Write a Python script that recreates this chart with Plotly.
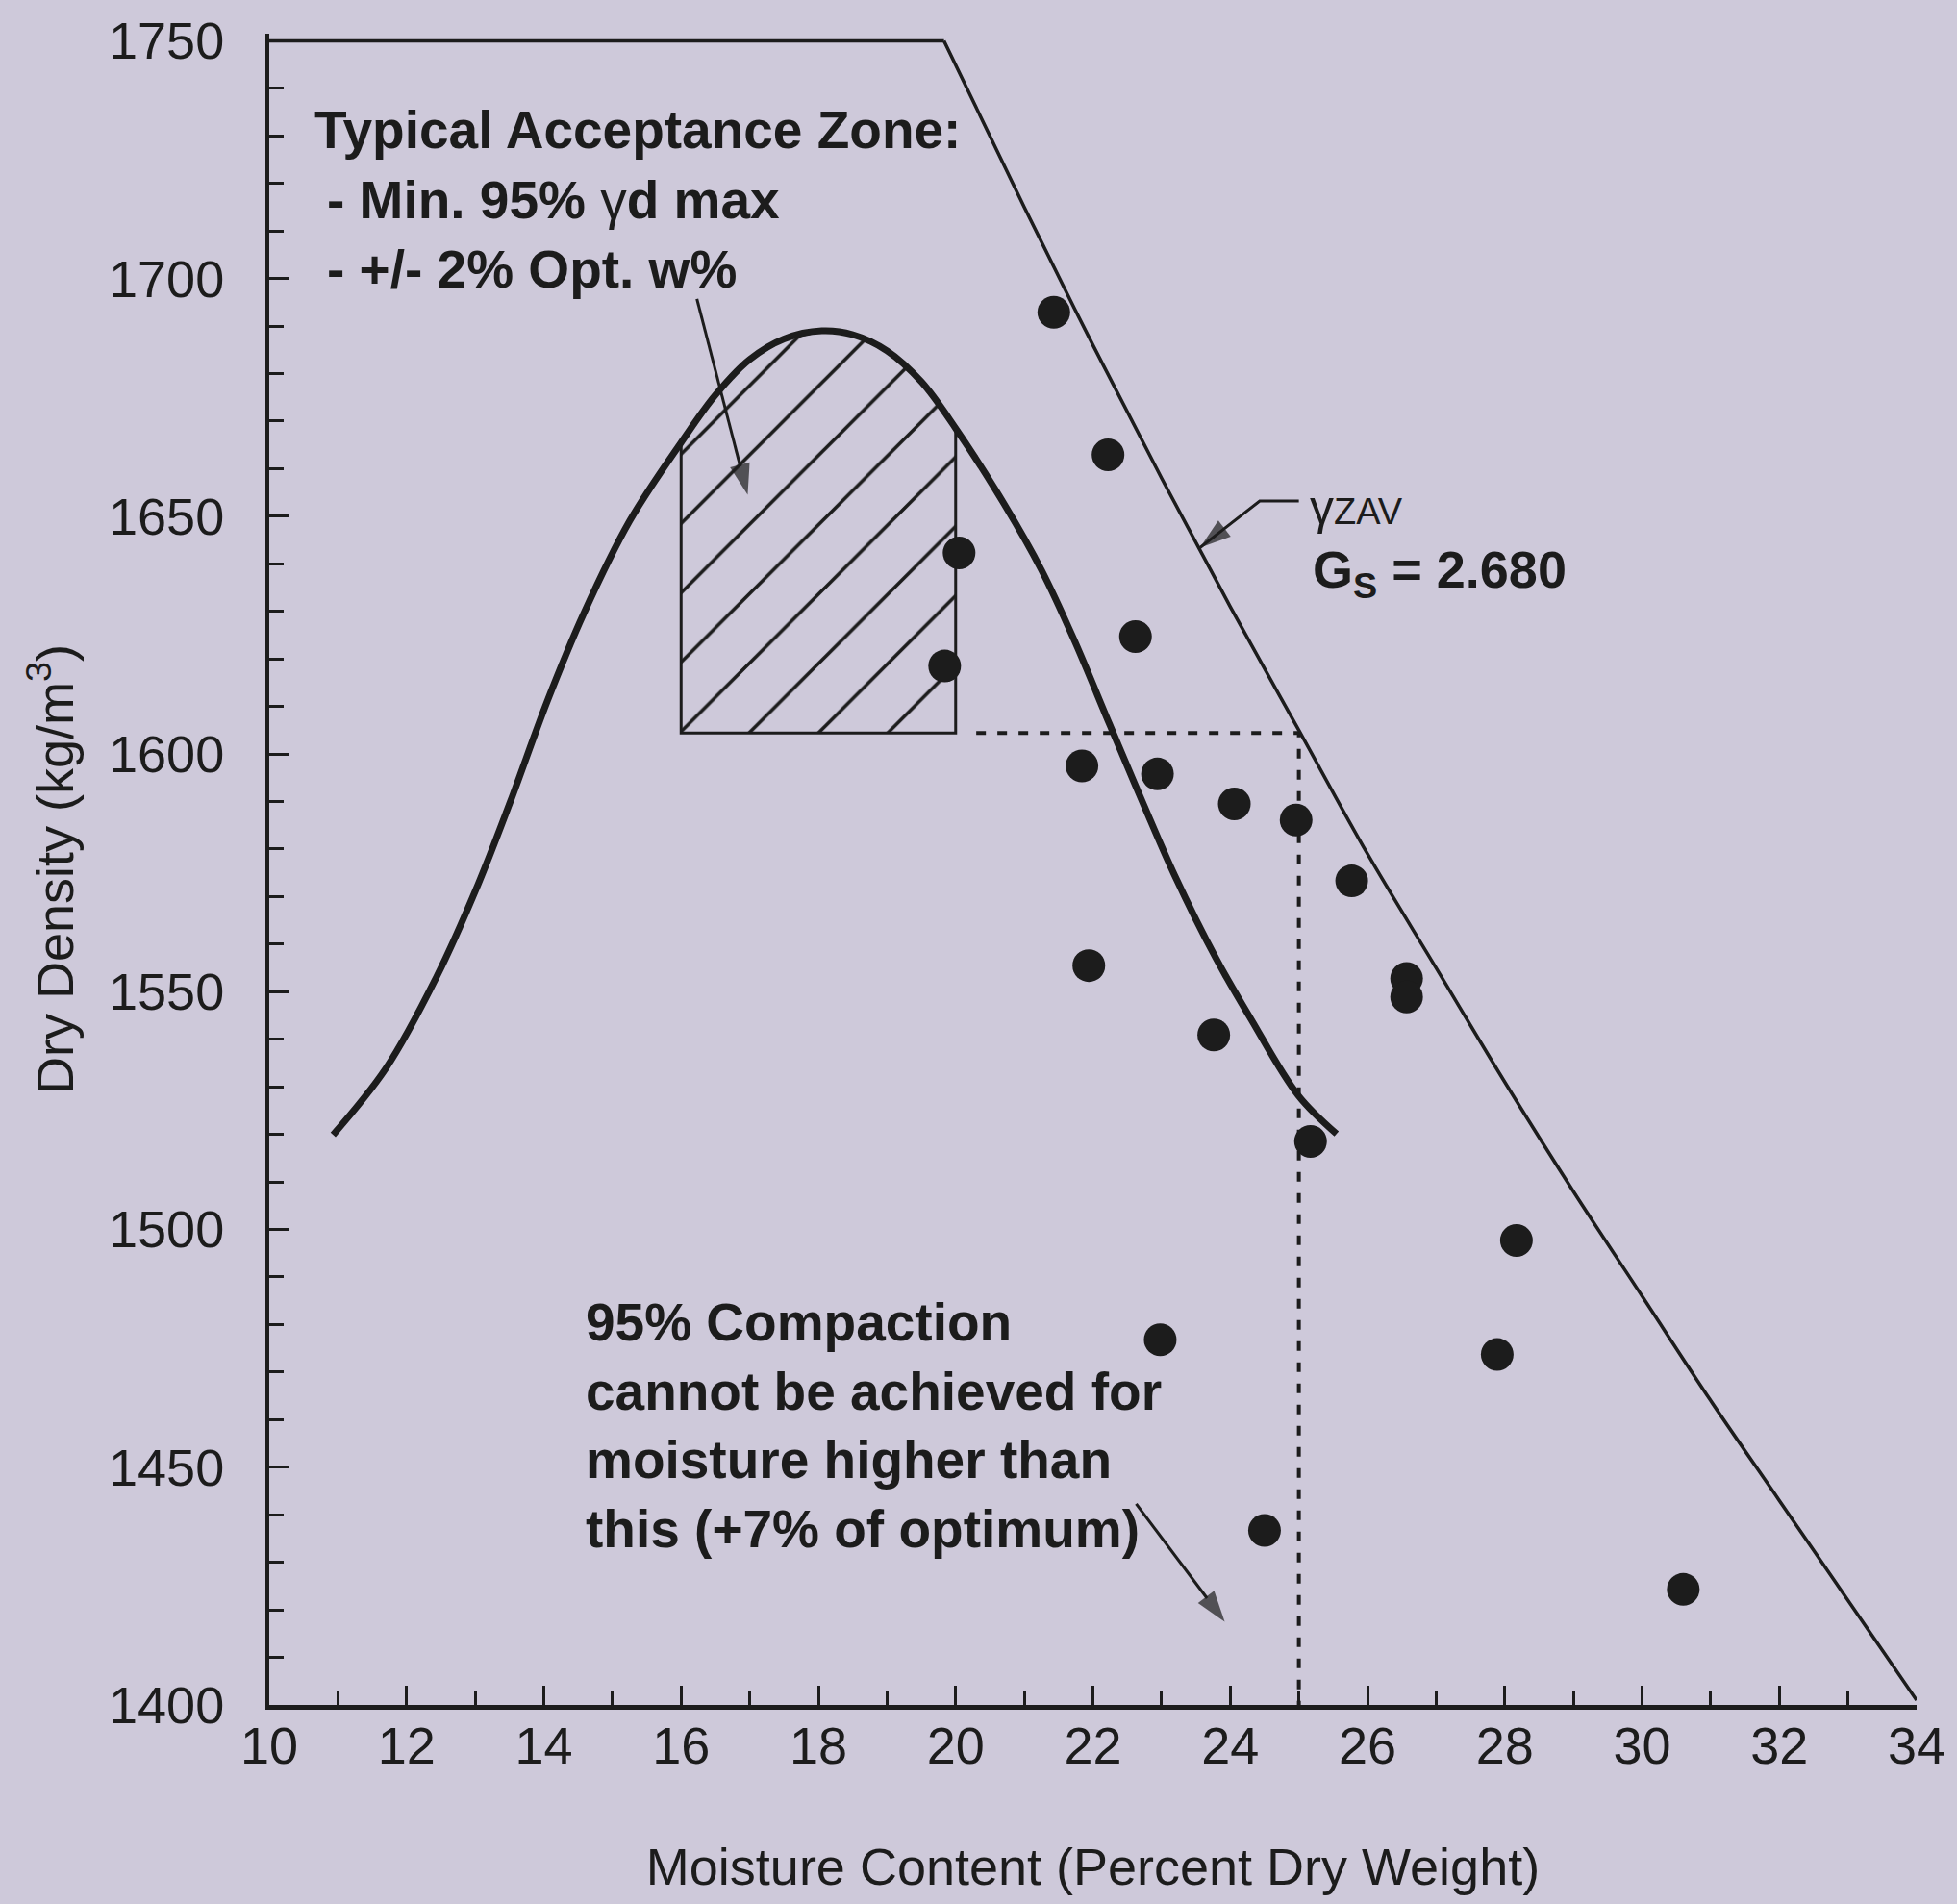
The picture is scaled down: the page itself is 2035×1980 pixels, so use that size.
import plotly.graph_objects as go

# ---------------- data ----------------
# Proctor (compaction) curve
curve_w = [10.93, 11.70, 12.44, 13.04, 13.51, 14.05, 14.58, 15.25, 16.0, 16.5, 17.0, 17.5,
           18.05, 18.5, 19.0, 19.5, 20.0, 20.71, 21.25, 21.72, 22.25, 22.72, 23.19, 23.79,
           24.30, 24.99, 25.55]
curve_rho = [1519.9, 1533.9, 1553.2, 1572.5, 1589.9, 1611.1, 1629.5, 1649.0, 1665.5, 1675.5,
             1683.0, 1687.3, 1689.0, 1688.2, 1684.8, 1678.3, 1668.5, 1652.5, 1638.7, 1624.2,
             1606.0, 1590.0, 1574.5, 1557.1, 1544.3, 1528.2, 1520.1]

# Zero-air-voids line (Gs = 2.680)
zav_w = [19.83, 21, 22, 23, 24, 25, 26, 27, 28, 29, 30, 31, 32, 33, 34]
zav_rho = [1750, 1715, 1686, 1658, 1631, 1605, 1579, 1555, 1531, 1508, 1486, 1464, 1443, 1422, 1401]

# frame top line
top_w = [10, 19.83]
top_rho = [1750, 1750]

# field test points
pts_w = [21.43, 22.22, 20.05, 19.84, 22.62, 21.84, 22.94, 24.06, 24.96, 25.77, 26.57, 26.57,
         21.94, 23.76, 25.17, 28.17, 22.98, 27.89, 24.50, 30.60]
pts_rho = [1692.9, 1662.9, 1642.3, 1618.5, 1624.7, 1597.5, 1595.8, 1589.5, 1586.1, 1573.3,
           1552.8, 1548.9, 1555.5, 1540.9, 1518.5, 1497.7, 1476.8, 1473.7, 1436.7, 1424.3]

# acceptance zone limits
zone_w_min, zone_w_max = 16.0, 20.0
zone_rho_min = 1604.4
limit_w = 25.0

x_ticks = list(range(10, 35, 2))
y_ticks = list(range(1400, 1751, 50))

INK = "#1c1c1c"
BG = "#cec9da"
FONT = "Liberation Sans, Arial, Helvetica, sans-serif"

fig = go.Figure()

# hatched acceptance zone
zx = [w for w in curve_w if zone_w_min <= w <= zone_w_max]
zy = [r for w, r in zip(curve_w, curve_rho) if zone_w_min <= w <= zone_w_max]
poly_x = zx + [zone_w_max, zone_w_min, zone_w_min]
poly_y = zy + [zone_rho_min, zone_rho_min, zy[0]]
fig.add_trace(go.Scatter(
    x=poly_x, y=poly_y, mode="lines", fill="toself",
    fillcolor="rgba(0,0,0,0)",
    fillpattern=dict(shape="/", size=51, solidity=0.07, fgcolor=INK, fgopacity=1,
                     bgcolor="rgba(0,0,0,0)"),
    line=dict(color=INK, width=3), hoverinfo="skip", showlegend=False))

# dotted limit lines
fig.add_trace(go.Scatter(
    x=[zone_w_max + 0.3, limit_w, limit_w], y=[zone_rho_min, zone_rho_min, 1400],
    mode="lines", line=dict(color=INK, width=4, dash="10px,12px"),
    hoverinfo="skip", showlegend=False))

# top frame line
fig.add_trace(go.Scatter(x=top_w, y=top_rho, mode="lines",
                         line=dict(color=INK, width=3.5), showlegend=False))
# ZAV line
fig.add_trace(go.Scatter(x=zav_w, y=zav_rho, mode="lines", line_shape="spline",
                         line=dict(color=INK, width=3.5), name="ZAV", showlegend=False))
# compaction curve
fig.add_trace(go.Scatter(x=curve_w, y=curve_rho, mode="lines", line_shape="spline",
                         line=dict(color=INK, width=7), name="Compaction curve", showlegend=False))
# test points
fig.add_trace(go.Scatter(x=pts_w, y=pts_rho, mode="markers",
                         marker=dict(size=34, color=INK), name="Tests", showlegend=False,
                         cliponaxis=False))

# pointer arrows (tail -> head), drawn as lines with an arrow marker at the head
arrows = [
    ([16.23, 16.97], [1695.7, 1654.5]),
    ([25.0, 24.43, 23.56], [1653.2, 1653.2, 1643.4]),
    ([22.63, 23.92], [1442.3, 1417.5]),
]
for ax_, ay_ in arrows:
    n = len(ax_)
    fig.add_trace(go.Scatter(
        x=ax_, y=ay_, mode="lines+markers",
        line=dict(color=INK, width=3),
        marker=dict(symbol="arrow", size=[0] * (n - 1) + [34], angleref="previous",
                    color=INK, line=dict(width=0)),
        hoverinfo="skip", showlegend=False, cliponaxis=False))

bold = dict(family=FONT, size=55, color=INK)
ann = [
    dict(x=10.63, y=1731.3, text="<b>Typical Acceptance Zone:</b>", xanchor="left", yanchor="middle",
         showarrow=False, font=bold),
    dict(x=10.81, y=1716.5, text="<b>- Min. 95% </b>γ<b>d max</b>", xanchor="left", yanchor="middle",
         showarrow=False, font=dict(family=FONT, size=55, color=INK)),
    dict(x=10.81, y=1702.0, text="<b>- +/- 2% Opt. w%</b>", xanchor="left", yanchor="middle",
         showarrow=False, font=bold),
    dict(x=14.58, y=1458.7,
         text="<b>95% Compaction<br>cannot be achieved for<br>moisture higher than<br>this (+7% of optimum)</b>",
         xanchor="left", yanchor="middle", align="left", showarrow=False, font=bold),
    dict(x=25.13, y=1651.7, text="γ<span style='font-size:38px'>ZAV</span>", xanchor="left",
         yanchor="middle", showarrow=False, font=dict(family=FONT, size=50, color=INK)),
    dict(x=25.17, y=1638.0, text="<b>G<sub>S</sub> = 2.680</b>", xanchor="left", yanchor="middle",
         showarrow=False, font=dict(family=FONT, size=54, color=INK)),
]

fig.update_layout(
    width=2035, height=1980, autosize=False,
    margin=dict(l=280, r=40, t=32, b=207),
    paper_bgcolor=BG, plot_bgcolor=BG,
    font=dict(family=FONT, color=INK, size=54),
    annotations=ann,
    showlegend=False,
)
fig.update_xaxes(
    range=[10, 34], showline=True, linewidth=5, linecolor=INK, mirror=False,
    ticks="inside", tickvals=x_ticks, ticklen=20, tickwidth=3, tickcolor=INK,
    minor=dict(dtick=1, ticks="inside", ticklen=14, tickwidth=3, tickcolor=INK),
    showgrid=False, zeroline=False, tickfont=dict(size=54, family=FONT, color=INK),
    ticklabelstandoff=-9,
    title=dict(text="Moisture Content (Percent Dry Weight)", standoff=80,
               font=dict(size=54, family=FONT, color=INK)),
)
fig.update_yaxes(
    range=[1400, 1751.5], showline=True, linewidth=4, linecolor=INK,
    ticks="inside", tickvals=y_ticks, ticklen=20, tickwidth=3, tickcolor=INK,
    minor=dict(dtick=10, tick0=1400, ticks="inside", ticklen=15, tickwidth=3, tickcolor=INK),
    showgrid=False, zeroline=False, tickfont=dict(size=54, family=FONT, color=INK),
    ticklabelstandoff=32,
    title=dict(text="Dry Density (kg/m<sup>3</sup>)", standoff=20,
               font=dict(size=54, family=FONT, color=INK)),
)

fig.write_html("out.html", config={"displayModeBar": False},
               post_script="document.body.style.margin='0';document.body.style.background='%s';" % BG)
